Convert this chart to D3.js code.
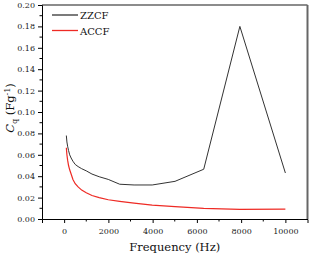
<!DOCTYPE html>
<html>
<head>
<meta charset="utf-8">
<script src="https://cdn.jsdelivr.net/npm/d3@7"></script>
<style>
  body { margin: 0; background: #fff; }
</style>
</head>
<body>
<div id="chart"></div>
<script>
// Frequencies (Hz), log spaced, shared by both series
const freqs = [100, 126, 158, 200, 251, 316, 398, 501, 631, 794, 1000, 1259, 1585, 1995, 2512, 3162, 3981, 5012, 6310, 7943, 10000];
const zzcf = [0.078, 0.072, 0.068, 0.064, 0.060, 0.057, 0.054, 0.051, 0.049, 0.047, 0.045, 0.042, 0.0395, 0.037, 0.0325, 0.0318, 0.0318, 0.0352, 0.0465, 0.180, 0.043];
const accf = [0.0666, 0.060, 0.055, 0.050, 0.046, 0.042, 0.037, 0.033, 0.030, 0.027, 0.0245, 0.022, 0.020, 0.018, 0.0165, 0.0148, 0.0130, 0.0115, 0.0100, 0.0090, 0.0092];
const xTicks = [0, 2000, 4000, 6000, 8000, 10000];
const yTicks = [0, 0.02, 0.04, 0.06, 0.08, 0.10, 0.12, 0.14, 0.16, 0.18, 0.20];
const seriesNames = ['ZZCF', 'ACCF'];
const seriesColors = ['#333333', '#ee2a24'];

const FONT = 'DejaVu Serif';
const width = 310, height = 256;
const m = { top: 5, right: 2.5, bottom: 37, left: 42 };

const svg = d3.select('#chart').append('svg').attr('width', width).attr('height', height);

const x = d3.scaleLinear().domain([-1000, 11000]).range([m.left, width - m.right]);
const y = d3.scaleLinear().domain([0, 0.2]).range([height - m.bottom, m.top]);

// frame: top and right edges drawn a bit heavier, as in the original
svg.append('line').attr('x1', m.left).attr('x2', width - m.right)
  .attr('y1', m.top).attr('y2', m.top).attr('stroke', '#666').attr('stroke-width', 1.6);
svg.append('line').attr('x1', width - m.right).attr('x2', width - m.right)
  .attr('y1', m.top).attr('y2', height - m.bottom).attr('stroke', '#666').attr('stroke-width', 2);

// minor ticks
const minorX = d3.range(1000, 11000, 2000);
const minorY = d3.range(0.01, 0.2, 0.02);
svg.append('g').selectAll('line').data(minorX).enter().append('line')
  .attr('x1', d => x(d)).attr('x2', d => x(d))
  .attr('y1', y(0)).attr('y2', y(0) + 2.5).attr('stroke', '#000');
svg.append('g').selectAll('line').data(minorY).enter().append('line')
  .attr('x1', m.left - 2.5).attr('x2', m.left)
  .attr('y1', d => y(d)).attr('y2', d => y(d)).attr('stroke', '#000');

// axes
const xAxis = svg.append('g').attr('transform', `translate(0,${y(0)})`)
  .call(d3.axisBottom(x).tickValues(xTicks).tickSize(4).tickPadding(5).tickFormat(d3.format('d')));
const yAxis = svg.append('g').attr('transform', `translate(${m.left},0)`)
  .call(d3.axisLeft(y).tickValues(yTicks).tickSize(4).tickPadding(3).tickFormat(d3.format('.2f')));
[xAxis, yAxis].forEach(a => {
  a.attr('font-family', FONT).attr('font-size', 8);
  a.selectAll('text').attr('fill', '#222');
  a.select('.domain').attr('stroke', '#000');
});

// series
const line = d3.line().x(d => x(d[0])).y(d => y(d[1]));
[zzcf, accf].forEach((vals, i) => {
  svg.append('path')
    .datum(freqs.map((f, j) => [f, vals[j]]))
    .attr('fill', 'none')
    .attr('stroke', seriesColors[i])
    .attr('stroke-width', i === 0 ? 1 : 1.2)
    .attr('d', line);
});

// legend
seriesNames.forEach((name, i) => {
  const ly = 15 + i * 15.5;
  svg.append('line').attr('x1', 52).attr('x2', 78).attr('y1', ly).attr('y2', ly)
    .attr('stroke', seriesColors[i]).attr('stroke-width', 1.3);
  svg.append('text').attr('x', 80).attr('y', ly + 4).text(name)
    .attr('font-family', FONT).attr('font-size', 10).attr('fill', '#111');
});

// axis titles
svg.append('text').attr('x', (m.left + width - m.right) / 2).attr('y', 251)
  .attr('text-anchor', 'middle').attr('font-family', FONT).attr('font-size', 11.5).attr('fill', '#111')
  .text('Frequency (Hz)');

const yl = svg.append('text')
  .attr('transform', 'translate(14,108) rotate(-90)')
  .attr('text-anchor', 'middle').attr('font-family', FONT).attr('font-size', 11.5).attr('fill', '#111');
yl.append('tspan').attr('font-style', 'italic').text('C');
yl.append('tspan').attr('dy', 3).attr('font-size', 8).text('q');
yl.append('tspan').attr('dy', -3).text(' (Fg');
yl.append('tspan').attr('dy', -4).attr('font-size', 8).text('-1');
yl.append('tspan').attr('dy', 4).text(')');
</script>
</body>
</html>
